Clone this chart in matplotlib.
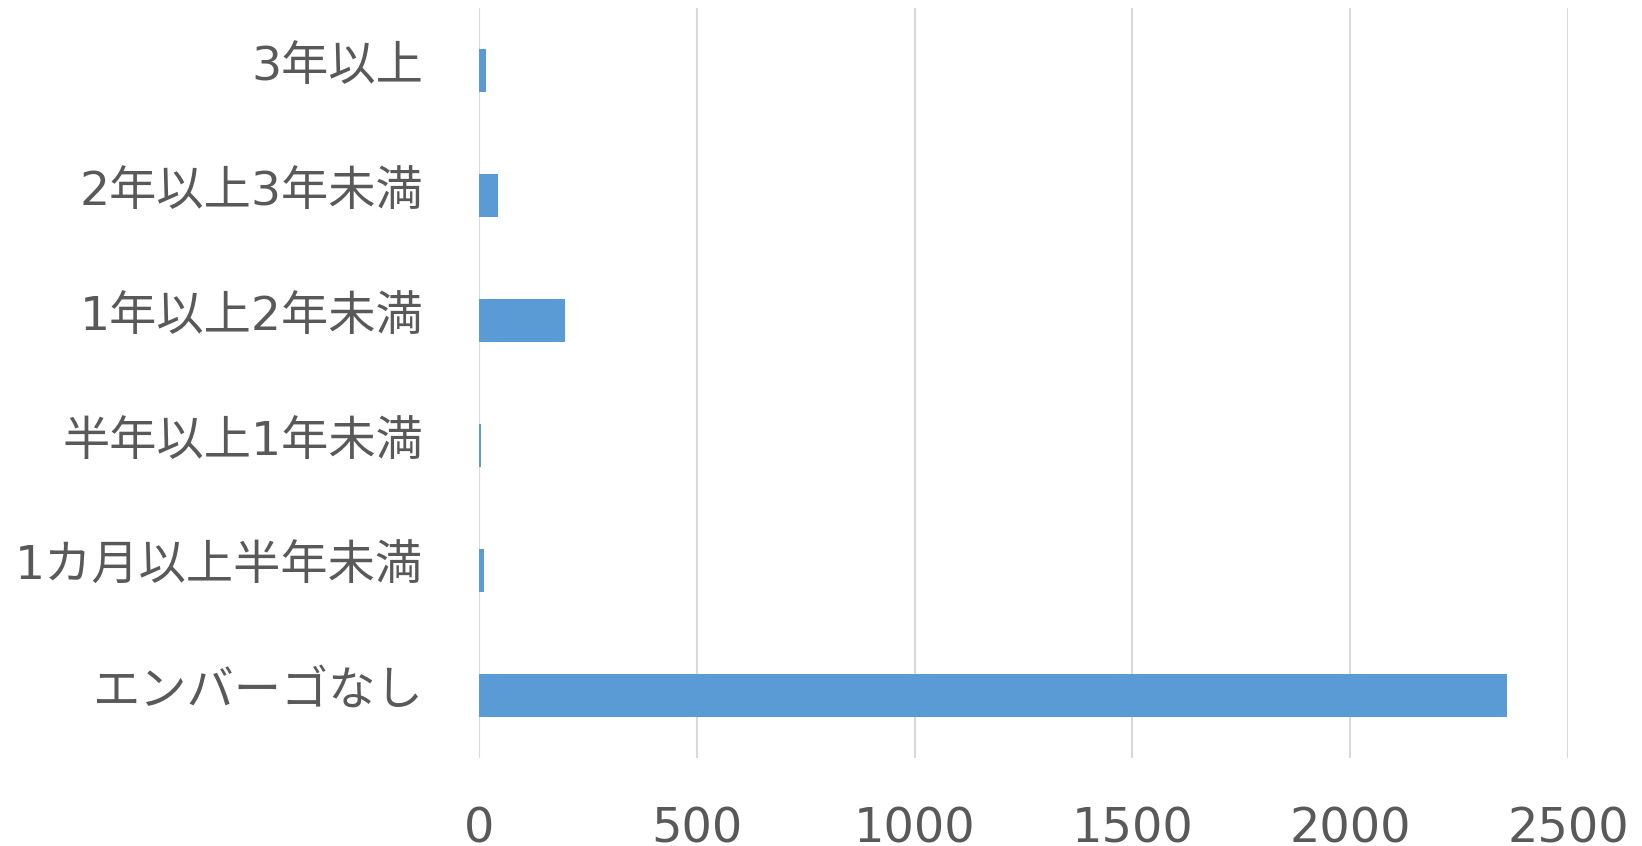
import matplotlib.pyplot as plt
import matplotlib.transforms as mtransforms

# categories listed bottom to top
categories = ['エンバーゴなし', '1カ月以上半年未満', '半年以上1年未満',
              '1年以上2年未満', '2年以上3年未満', '3年以上']
counts = [2360, 11, 4, 198, 43, 15]
xticks = [0, 500, 1000, 1500, 2000, 2500]

# DejaVu for the digits, Noto CJK for the Japanese
plt.rcParams['font.family'] = ['DejaVu Sans', 'Noto Sans CJK JP']

fig = plt.figure(figsize=(16.42, 8.46), dpi=100)
ax = fig.add_axes([0.2917, 0.104, 0.6633, 0.8865])

ax.barh(range(len(categories)), counts, height=0.35, color='#5B9BD5', zorder=2)

ax.set_xlim(0, 2500)
ax.set_ylim(-0.5, len(categories) - 0.5)
ax.set_xticks(xticks)
ax.set_xticklabels([str(t) for t in xticks])
ax.set_yticks(range(len(categories)))
ax.set_yticklabels(categories)

ax.grid(axis='x', color='#D9D9D9', linewidth=1.5, zorder=0)
ax.grid(axis='y', visible=False)
for s in ax.spines.values():
    s.set_visible(False)

ax.tick_params(axis='x', length=0, pad=34, labelsize=34.5, labelcolor='#595959')
ax.tick_params(axis='y', length=0, pad=40, labelsize=34, labelcolor='#595959')

# labels sit a little above the bar centres in the original
shift = mtransforms.ScaledTranslation(0, 6 / 72, fig.dpi_scale_trans)
for lab in ax.get_yticklabels():
    lab.set_transform(lab.get_transform() + shift)

fig.savefig('out.png', dpi=100)
